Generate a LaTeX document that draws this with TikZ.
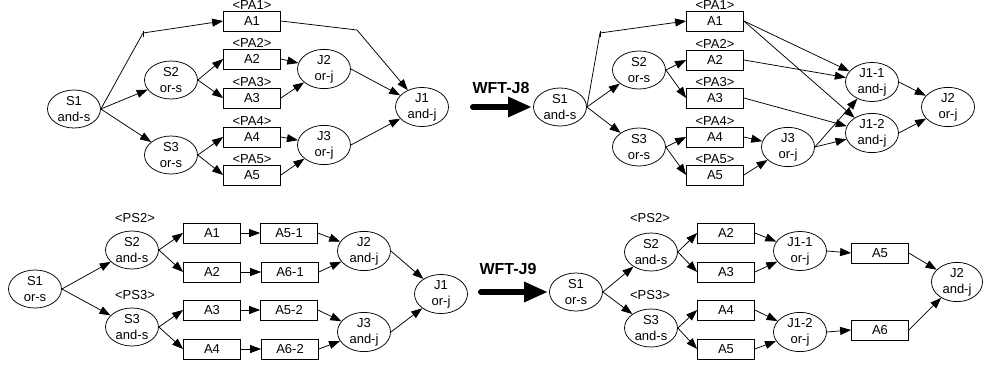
\documentclass[tikz,border=0pt]{standalone}
\usepackage{fontspec}
\setmainfont{Liberation Sans}
\usetikzlibrary{arrows.meta,shapes.geometric}
\begin{document}
\begin{tikzpicture}[x=1pt,y=-1pt,
  every node/.style={font=\fontsize{13}{16}\selectfont},
  gw/.style={draw, ellipse, minimum width=53pt, minimum height=38pt, inner sep=0pt, align=center, line width=0.75pt},
  act/.style={draw, rectangle, minimum width=57pt, minimum height=20pt, inner sep=0pt, line width=0.75pt},
  lbl/.style={inner sep=0.5pt},
  arr/.style={-{Triangle[length=11pt,width=8pt]}, line width=0.75pt},
  ln/.style={line width=0.75pt},
  big/.style={-{Triangle[length=24pt,width=19pt]}, line width=6pt, line cap=round},
  wft/.style={font=\fontsize{16}{19}\selectfont\bfseries}
]
\useasboundingbox (0,0) rectangle (984,364);

% ---------------- top-left ----------------
\node[gw] (S1a) at (74,109) {S1\\and-s};
\node[gw] (S2a) at (171,80) {S2\\or-s};
\node[gw] (S3a) at (171,155) {S3\\or-s};
\node[act] (A1a) at (252,21) {A1};
\node[act] (A2a) at (252,59) {A2};
\node[act] (A3a) at (252,98) {A3};
\node[act] (A4a) at (252,137) {A4};
\node[act] (A5a) at (252,175) {A5};
\node[lbl,anchor=south] (PA1a) at (A1a.north) {\textless PA1\textgreater};
\node[lbl,anchor=south] (PA2a) at (A2a.north) {\textless PA2\textgreater};
\node[lbl,anchor=south] (PA3a) at (A3a.north) {\textless PA3\textgreater};
\node[lbl,anchor=south] (PA4a) at (A4a.north) {\textless PA4\textgreater};
\node[lbl,anchor=south] (PA5a) at (A5a.north) {\textless PA5\textgreater};
\node[gw] (J2a) at (324,69) {J2\\or-j};
\node[gw] (J3a) at (324,145) {J3\\or-j};
\node[gw] (J1a) at (422,107) {J1\\and-j};
\coordinate (ta) at (143,33);
\coordinate (tb) at (357,30);

\draw[arr] (S1a.east) -- (ta) -- (A1a.west);
\draw[ln] ([yshift=-4pt]ta) -- ([yshift=2pt]ta);
\draw[arr] (S1a.east) -- (S2a);
\draw[arr] (S1a.east) -- (S3a);
\draw[arr] (S2a.east) -- (A2a.west);
\draw[arr] (S2a.east) -- (A3a.west);
\draw[arr] (S3a.east) -- (A4a.west);
\draw[arr] (S3a.east) -- (A5a.west);
\draw[arr] (A2a.east) -- (J2a);
\draw[arr] (A3a.east) -- (J2a);
\draw[arr] (A4a.east) -- (J3a);
\draw[arr] (A5a.east) -- (J3a);
\draw[arr] (J2a.east) -- (J1a);
\draw[arr] (J3a.east) -- (J1a);
\draw[arr] (A1a.east) -- (tb) -- (J1a);

% ---------------- WFT-J8 ----------------
\node[wft] (wft8) at (501,88) {WFT-J8};
\coordinate (w8s) at (473,107);
\coordinate (w8e) at (532,107);
\draw[big] (w8s) -- (w8e);

% ---------------- top-right ----------------
\node[gw] (S1b) at (560,107) {S1\\and-s};
\node[gw] (S2b) at (639,70) {S2\\or-s};
\node[gw] (S3b) at (639,147) {S3\\or-s};
\node[act] (A1b) at (715,21) {A1};
\node[act] (A2b) at (715,60) {A2};
\node[act] (A3b) at (715,98) {A3};
\node[act] (A4b) at (715,137) {A4};
\node[act] (A5b) at (715,175) {A5};
\node[lbl,anchor=south] (PA1b) at (A1b.north) {\textless PA1\textgreater};
\node[lbl,anchor=south] (PA2b) at (A2b.north) {\textless PA2\textgreater};
\node[lbl,anchor=south] (PA3b) at (A3b.north) {\textless PA3\textgreater};
\node[lbl,anchor=south] (PA4b) at (A4b.north) {\textless PA4\textgreater};
\node[lbl,anchor=south] (PA5b) at (A5b.north) {\textless PA5\textgreater};
\node[gw] (J3b) at (788,147) {J3\\or-j};
\node[gw] (J11b) at (872,82) {J1-1\\and-j};
\node[gw] (J12b) at (872,133) {J1-2\\and-j};
\node[gw] (J2b) at (948,107) {J2\\or-j};
\coordinate (tc) at (600,33);

\draw[arr] (S1b.east) -- (tc) -- (A1b.west);
\draw[ln] ([yshift=-4pt]tc) -- ([yshift=2pt]tc);
\draw[arr] (S1b.east) -- (S2b);
\draw[arr] (S1b.east) -- (S3b);
\draw[arr] (S2b.east) -- (A2b.west);
\draw[arr] (S2b.east) -- (A3b.west);
\draw[arr] (S3b.east) -- (A4b.west);
\draw[arr] (S3b.east) -- (A5b.west);
\draw[arr] (A1b.east) -- (J11b);
\draw[arr] (A1b.east) -- (J12b);
\draw[arr] (A2b.east) -- (J11b);
\draw[arr] (A3b.east) -- (J12b);
\draw[arr] (A4b.east) -- (J3b);
\draw[arr] (A5b.east) -- (J3b);
\draw[arr] (J3b.east) -- (J11b);
\draw[arr] (J3b.east) -- (J12b);
\draw[arr] (J11b.east) -- (J2b);
\draw[arr] (J12b.east) -- (J2b);

% ---------------- bottom-left ----------------
\node[gw] (S1c) at (35,289) {S1\\or-s};
\node[gw] (S2c) at (132,250) {S2\\and-s};
\node[gw] (S3c) at (132,327) {S3\\and-s};
\node[lbl] (PS2c) at (135,218) {\textless PS2\textgreater};
\node[lbl] (PS3c) at (135,295) {\textless PS3\textgreater};
\node[act] (A1c) at (212,233) {A1};
\node[act] (A2c) at (212,272) {A2};
\node[act] (A3c) at (212,310) {A3};
\node[act] (A4c) at (212,349) {A4};
\node[act] (A51c) at (289,233) {A5-1};
\node[act] (A61c) at (290,272) {A6-1};
\node[act] (A52c) at (289,310) {A5-2};
\node[act] (A62c) at (290,349) {A6-2};
\node[gw] (J2c) at (364,251) {J2\\and-j};
\node[gw] (J3c) at (364,332) {J3\\and-j};
\node[gw] (J1c) at (441,294) {J1\\or-j};

\draw[arr] (S1c.east) -- (S2c);
\draw[arr] (S1c.east) -- (S3c);
\draw[arr] (S2c.east) -- (A1c.west);
\draw[arr] (S2c.east) -- (A2c.west);
\draw[arr] (S3c.east) -- (A3c.west);
\draw[arr] (S3c.east) -- (A4c.west);
\draw[arr] (A1c.east) -- (A51c.west);
\draw[arr] (A2c.east) -- (A61c.west);
\draw[arr] (A3c.east) -- (A52c.west);
\draw[arr] (A4c.east) -- (A62c.west);
\draw[arr] (A51c.east) -- (J2c);
\draw[arr] (A61c.east) -- (J2c);
\draw[arr] (A52c.east) -- (J3c);
\draw[arr] (A62c.east) -- (J3c);
\draw[arr] (J2c.east) -- (J1c);
\draw[arr] (J3c.east) -- (J1c);

% ---------------- WFT-J9 ----------------
\node[wft] (wft9) at (508,269) {WFT-J9};
\coordinate (w9s) at (481,292);
\coordinate (w9e) at (548,292);
\draw[big] (w9s) -- (w9e);

% ---------------- bottom-right ----------------
\node[gw] (S1d) at (576,292) {S1\\or-s};
\node[gw] (S2d) at (651,252) {S2\\and-s};
\node[gw] (S3d) at (651,328) {S3\\and-s};
\node[lbl] (PS2d) at (650,218) {\textless PS2\textgreater};
\node[lbl] (PS3d) at (650,295) {\textless PS3\textgreater};
\node[act] (A2d) at (726,233) {A2};
\node[act] (A3d) at (726,272) {A3};
\node[act] (A4d) at (726,310) {A4};
\node[act] (A5d) at (726,349) {A5};
\node[gw] (J11d) at (800,251) {J1-1\\or-j};
\node[gw] (J12d) at (800,332) {J1-2\\or-j};
\node[act] (A5e) at (880,253) {A5};
\node[act] (A6e) at (880,330) {A6};
\node[gw, minimum width=51pt] (J2d) at (957,282) {J2\\and-j};

\draw[arr] (S1d.east) -- (S2d);
\draw[arr] (S1d.east) -- (S3d);
\draw[arr] (S2d.east) -- (A2d.west);
\draw[arr] (S2d.east) -- (A3d.west);
\draw[arr] (S3d.east) -- (A4d.west);
\draw[arr] (S3d.east) -- (A5d.west);
\draw[arr] (A2d.east) -- (J11d);
\draw[arr] (A3d.east) -- (J11d);
\draw[arr] (A4d.east) -- (J12d);
\draw[arr] (A5d.east) -- (J12d);
\draw[arr] (J11d.east) -- (A5e.west);
\draw[arr] (J12d.east) -- (A6e.west);
\draw[arr] (A5e.east) -- (J2d);
\draw[arr] (A6e.east) -- (J2d);
\end{tikzpicture}
\end{document}
